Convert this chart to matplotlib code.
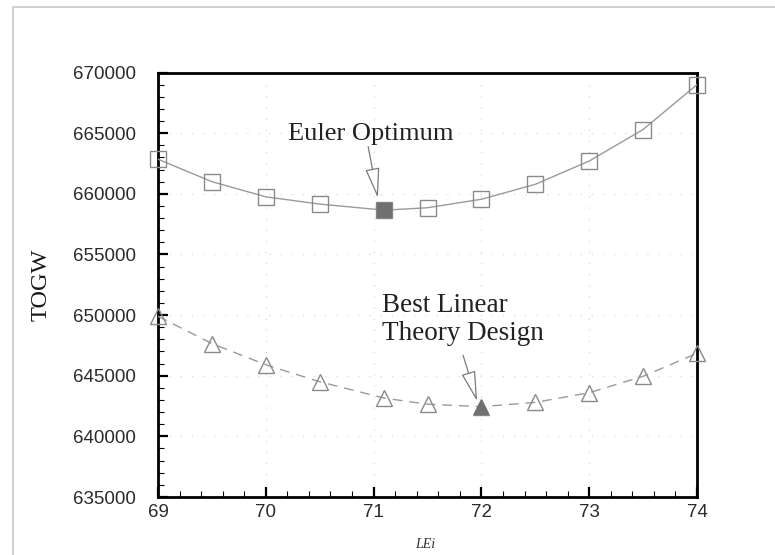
import matplotlib
matplotlib.use("Agg")
import matplotlib.pyplot as plt
from matplotlib.ticker import MultipleLocator, FixedLocator
from matplotlib.patches import Rectangle

# LEi sweep values
lei = [69.0, 69.5, 70.0, 70.5, 71.1, 71.5, 72.0, 72.5, 73.0, 73.5, 74.0]

# TOGW from Euler analysis (square markers)
togw_euler = [662850, 661000, 659750, 659150, 658650, 658850, 659550, 660780, 662700, 665300, 669000]

# TOGW from linear theory designs (triangle markers)
togw_linear = [649900, 647650, 645900, 644500, 643150, 642650, 642450, 642800, 643600, 644950, 646850]

euler_opt = (71.1, 658650)
linear_best = (72.0, 642450)

x_ticks = [69, 70, 71, 72, 73, 74]
y_ticks = [635000, 640000, 645000, 650000, 655000, 660000, 665000, 670000]

W, H = 775, 555
fig = plt.figure(figsize=(W / 100, H / 100), dpi=100)
ax = fig.add_axes([158 / W, 1 - 497 / H, (697 - 158) / W, (497 - 72.5) / H])

line_col = "#9a9a9a"
mk_col = "#8a8a8a"
fill_col = "#707070"

ax.plot(lei, togw_euler, color=line_col, lw=1.0, zorder=3)
ax.plot(lei, togw_euler, ls="none", marker="s", ms=11, mfc="none", mec=mk_col, mew=1.0,
        zorder=4, clip_on=False)
ax.plot(*euler_opt, ls="none", marker="s", ms=10, mfc=fill_col, mec=fill_col, zorder=5)

ax.plot(lei, togw_linear, color=line_col, lw=1.0, ls=(0, (7, 5)), zorder=3)
ax.plot(lei, togw_linear, ls="none", marker="^", ms=11, mfc="none", mec=mk_col, mew=1.0,
        zorder=4, clip_on=False)
ax.plot(*linear_best, ls="none", marker="^", ms=10, mfc=fill_col, mec=fill_col, zorder=5)

ax.set_xlim(69, 74)
ax.set_ylim(635000, 670000)
ax.xaxis.set_major_locator(FixedLocator(x_ticks))
ax.yaxis.set_major_locator(FixedLocator(y_ticks))
ax.xaxis.set_minor_locator(MultipleLocator(0.2))
ax.yaxis.set_minor_locator(MultipleLocator(1000))
ax.set_xticklabels([str(v) for v in x_ticks])
ax.set_yticklabels([str(v) for v in y_ticks])

for s in ax.spines.values():
    s.set_linewidth(2.0)
    s.set_color("black")

ax.tick_params(which="both", direction="in", top=False, right=False,
               labelsize=13.5, colors="black")
ax.tick_params(which="major", length=7, width=1.6)
ax.tick_params(which="minor", length=4, width=0.8)
ax.tick_params(axis="y", which="major", pad=16)
ax.tick_params(axis="x", which="major", pad=5)
for lab in ax.get_xticklabels() + ax.get_yticklabels():
    lab.set_fontfamily("Liberation Sans")
    lab.set_color("#2a2a2a")

ax.grid(True, which="major", color="#cfcfcf", lw=0.8, ls=(0, (1, 9)), zorder=0)

serif = "Liberation Serif"
ax.text(70.21, 664430, "Euler Optimum", fontsize=19, family=serif, color="#222222",
        va="baseline", ha="left", zorder=6)
ax.text(71.075, 650260, "Best Linear", fontsize=19.5, family=serif, color="#222222",
        va="baseline", ha="left", zorder=6)
ax.text(71.075, 647930, "Theory Design", fontsize=19.5, family=serif, color="#222222",
        va="baseline", ha="left", zorder=6)

arrow_kw = dict(arrowstyle="-|>,head_length=1.9,head_width=0.45", mutation_scale=10,
                fc="white", ec="#7a7a7a", lw=0.9, shrinkA=0, shrinkB=0)
ax.annotate("", xy=(71.04, 659650), xytext=(70.95, 663880), arrowprops=arrow_kw, zorder=6)
ax.annotate("", xy=(71.96, 642900), xytext=(71.83, 646690), arrowprops=arrow_kw, zorder=6)

fig.text(41 / W, 1 - 285 / H, "TOGW", rotation=90, fontsize=17.5, family=serif,
         ha="center", va="center", color="#1a1a1a")
fig.text(425 / W, 1 - 545 / H, "LEi", fontsize=10, family=serif, style="italic",
         ha="center", va="center", color="#333333")

# thin frame around the figure
fig.patches.append(Rectangle((13 / W, -0.2), 1.2, 1.2 - 6.5 / H, transform=fig.transFigure,
                             fill=False, ec="#c8c8c8", lw=1.2, zorder=0))

fig.savefig("out.png", dpi=100)
